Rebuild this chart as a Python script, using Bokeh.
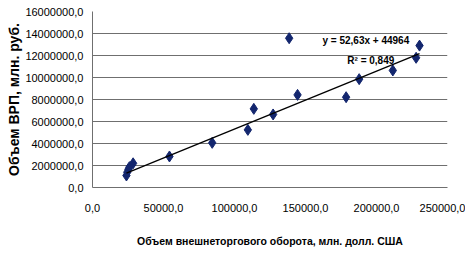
from bokeh.plotting import figure
from bokeh.models import ColumnDataSource, FixedTicker, CustomJSTickFormatter, Label, Range1d
from bokeh.embed import file_html
from bokeh.resources import INLINE
import numpy as np

# Data
trade_volume = [23900, 24500, 25300, 26000, 28600, 54200, 84300, 109400, 113600,
                127200, 138500, 144400, 178600, 187800, 211500, 227900, 230300]
grp_volume = [1090000, 1390000, 1650000, 1850000, 2200000, 2820000, 4060000, 5240000,
              7150000, 6640000, 13570000, 8420000, 8210000, 9850000, 10640000,
              11790000, 12900000]
trend_slope = 52.63
trend_intercept = 44964
equation_text = "y = 52,63x + 44964"
r_squared_text = "R² = 0,849"
x_title = "Объем внешнеторгового оборота, млн. долл. США"
y_title = "Объем ВРП, млн. руб."
x_ticks = [0, 50000, 100000, 150000, 200000, 250000]
y_ticks = [0, 2000000, 4000000, 6000000, 8000000, 10000000, 12000000, 14000000, 16000000]

W, H = 465, 262
p = figure(width=W, height=H, output_backend="svg", toolbar_location=None,
           x_range=Range1d(0, 250000), y_range=Range1d(0, 16000000),
           min_border_left=92, min_border_top=11, min_border_right=18, min_border_bottom=75)
p.outline_line_color = None
p.background_fill_color = "white"

fmt = CustomJSTickFormatter(code="return tick.toFixed(1).replace('.', ',');")
font = "Liberation Sans"

p.xaxis.ticker = FixedTicker(ticks=x_ticks)
p.yaxis.ticker = FixedTicker(ticks=y_ticks)
p.xaxis.formatter = fmt
p.yaxis.formatter = fmt
for ax in (p.xaxis[0], p.yaxis[0]):
    ax.major_tick_line_color = None
    ax.minor_tick_line_color = None
    ax.major_tick_out = 0
    ax.major_tick_in = 0
    ax.minor_tick_out = 0
    ax.minor_tick_in = 0
    ax.major_label_text_font = font
    ax.major_label_text_font_size = "11px"
    ax.major_label_text_color = "black"
    ax.axis_label_text_font = font
    ax.axis_label_text_font_style = "bold"
    ax.axis_label_text_color = "black"
    ax.axis_line_color = "#6f6f6f"

p.xaxis.axis_label = x_title
p.xaxis.axis_label_text_font_size = "10.5px"
p.xaxis.major_label_standoff = 16
p.xaxis.axis_label_standoff = 20

p.yaxis.axis_label = y_title
p.yaxis.axis_label_text_font_size = "14px"
p.yaxis.major_label_standoff = 9
p.yaxis.axis_label_standoff = 0

p.xgrid.grid_line_color = None
p.ygrid.grid_line_color = "#6f6f6f"
p.ygrid.grid_line_width = 1

src = ColumnDataSource(dict(x=trade_volume, y=grp_volume))
p.scatter("x", "y", source=src, marker="diamond", size=11, fill_color="#13266e",
          line_color="#13266e")

tx = np.array([min(trade_volume), max(trade_volume)], dtype=float)
ty = trend_slope * tx + trend_intercept
p.line(tx, ty, line_color="black", line_width=1.3)

eq = Label(x=192500, y=13360000, text=equation_text,
           text_align="center", text_baseline="middle", text_font=font,
           text_font_size="10px", text_font_style="bold", text_color="black")
r2 = Label(x=196000, y=11550000, text=r_squared_text, text_align="center",
           text_baseline="middle", text_font=font, text_font_size="10px",
           text_font_style="bold", text_color="black")
p.add_layout(eq)
p.add_layout(r2)

open("out.html", "w").write(file_html(p, INLINE))
